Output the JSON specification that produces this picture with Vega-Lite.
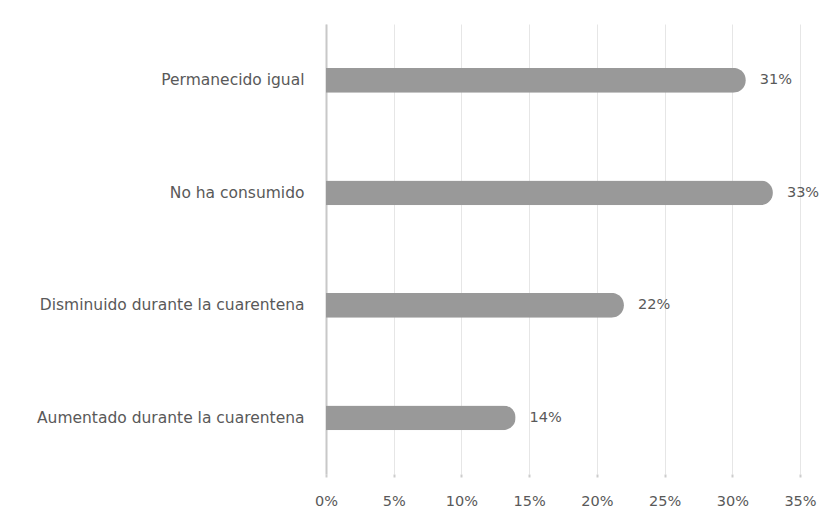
{
  "$schema": "https://vega.github.io/schema/vega-lite/v6.json",
  "autosize": {"type": "none"},
  "padding": {"left": 326, "top": 24, "right": 40, "bottom": 39},
  "width": 474,
  "height": 450,
  "background": "white",
  "data": {"values": [
    {"categoria": "Permanecido igual", "valor": 31, "etiqueta": "31%"},
    {"categoria": "No ha consumido", "valor": 33, "etiqueta": "33%"},
    {"categoria": "Disminuido durante la cuarentena", "valor": 22, "etiqueta": "22%"},
    {"categoria": "Aumentado durante la cuarentena", "valor": 14, "etiqueta": "14%"}
  ]},
  "config": {
    "view": {"stroke": null},
    "font": "DejaVu Sans"
  },
  "encoding": {
    "y": {
      "field": "categoria", "type": "nominal", "sort": null, "title": null,
      "scale": {"paddingInner": 0.78, "paddingOuter": 0.39},
      "axis": {
        "domainColor": "#c8c8c8", "domainWidth": 2, "ticks": false,
        "labelPadding": 22, "labelFontSize": 15.5, "labelColor": "#595959",
        "labelFont": "DejaVu Sans", "labelLimit": 400, "grid": false
      }
    },
    "x": {
      "field": "valor", "type": "quantitative", "title": null,
      "scale": {"domain": [0, 35], "nice": false},
      "axis": {
        "values": [0, 5, 10, 15, 20, 25, 30, 35],
        "labelExpr": "datum.value + '%'",
        "labelFlush": false,
        "grid": true, "gridColor": "#e6e6e6", "gridWidth": 1,
        "domain": false, "tickColor": "#cccccc", "tickSize": 3, "tickWidth": 2, "tickRound": true,
        "labelPadding": 17, "labelFontSize": 14.5, "labelColor": "#595959",
        "labelFont": "DejaVu Sans"
      }
    }
  },
  "layer": [
    {"mark": {"type": "bar", "color": "#999999", "cornerRadiusEnd": 12.5}},
    {
      "mark": {"type": "text", "align": "left", "dx": 14, "fontSize": 14.5, "color": "#595959", "font": "DejaVu Sans"},
      "encoding": {"text": {"field": "etiqueta", "type": "nominal"}}
    }
  ]
}
